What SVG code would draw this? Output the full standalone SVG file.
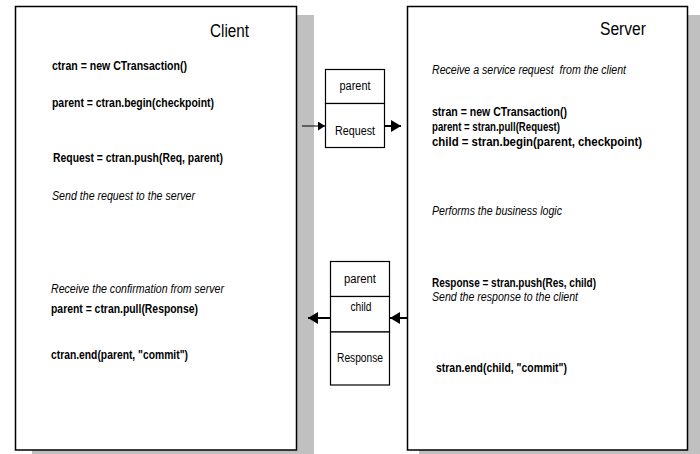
<svg xmlns="http://www.w3.org/2000/svg" width="700" height="454" viewBox="0 0 700 454">
<style>
.shadow{fill:#c0c0c0;stroke:none}
.panel{fill:#fff;stroke:#000;stroke-width:1.5}
.cell{fill:#fff;stroke:#000;stroke-width:1.2}
text{font-family:"Liberation Sans Narrow","Arial Narrow","Liberation Sans",Arial,sans-serif;fill:#000}
.title{font-size:18px}
.code{font-size:13px;font-weight:bold}
.note{font-size:12px;font-style:italic}
.lbl{font-size:12px;text-anchor:middle}
.thin{stroke:#000;stroke-width:1;fill:none}
.thick{stroke:#000;stroke-width:2;fill:none}
</style>
<defs>
<marker id="hs" markerUnits="userSpaceOnUse" markerWidth="8" markerHeight="9" refX="7" refY="4.5" orient="auto"><path d="M0,0 L7,4.5 L0,9 z" fill="#000"/></marker>
<marker id="hl" markerUnits="userSpaceOnUse" markerWidth="11" markerHeight="12" refX="10" refY="6" orient="auto"><path d="M0,0 L10,6 L0,12 z" fill="#000"/></marker>
</defs>
<rect width="700" height="454" fill="#fff"/>
<g id="client">
<rect class="shadow" x="32" y="15" width="282" height="450"/>
<rect class="panel" x="15.5" y="6.5" width="281" height="443.5"/>
<text class="title" x="210" y="37" textLength="39" lengthAdjust="spacingAndGlyphs">Client</text>
<text class="code" x="52" y="70" textLength="135" lengthAdjust="spacingAndGlyphs">ctran = new CTransaction()</text>
<text class="code" x="52" y="107" textLength="162" lengthAdjust="spacingAndGlyphs">parent = ctran.begin(checkpoint)</text>
<text class="code" x="53" y="162" textLength="170" lengthAdjust="spacingAndGlyphs">Request = ctran.push(Req, parent)</text>
<text class="note" x="52" y="200" textLength="143" lengthAdjust="spacingAndGlyphs">Send the request to the server</text>
<text class="note" x="51" y="293" textLength="173" lengthAdjust="spacingAndGlyphs">Receive the confirmation from server</text>
<text class="code" x="51" y="313" textLength="147" lengthAdjust="spacingAndGlyphs">parent = ctran.pull(Response)</text>
<text class="code" x="51" y="359" textLength="137" lengthAdjust="spacingAndGlyphs">ctran.end(parent, "commit")</text>
</g>
<g id="server">
<rect class="shadow" x="419" y="15" width="285" height="450"/>
<rect class="panel" x="407.5" y="6.5" width="280" height="443.5"/>
<text class="title" x="600" y="35" textLength="46" lengthAdjust="spacingAndGlyphs">Server</text>
<text class="note" x="432" y="74" xml:space="preserve" textLength="194" lengthAdjust="spacingAndGlyphs">Receive a service request  from the client</text>
<text class="code" x="432" y="116" textLength="135" lengthAdjust="spacingAndGlyphs">stran = new CTransaction()</text>
<text class="code" x="432" y="131" textLength="128" lengthAdjust="spacingAndGlyphs">parent = stran.pull(Request)</text>
<text class="code" x="432" y="146" textLength="210" lengthAdjust="spacingAndGlyphs">child = stran.begin(parent, checkpoint)</text>
<text class="note" x="432" y="215" textLength="130" lengthAdjust="spacingAndGlyphs">Performs the business logic</text>
<text class="code" x="432" y="287" textLength="164" lengthAdjust="spacingAndGlyphs">Response = stran.push(Res, child)</text>
<text class="note" x="432" y="301" textLength="146" lengthAdjust="spacingAndGlyphs">Send the response to the client</text>
<text class="code" x="436" y="372" textLength="131" lengthAdjust="spacingAndGlyphs">stran.end(child, "commit")</text>
</g>
<g id="request-msg">
<rect class="cell" x="325.5" y="69.5" width="59" height="34"/>
<rect class="cell" x="325.5" y="103.5" width="59" height="44"/>
<text class="lbl" x="355" y="90" textLength="31" lengthAdjust="spacingAndGlyphs">parent</text>
<text class="lbl" x="355" y="135" textLength="40" lengthAdjust="spacingAndGlyphs">Request</text>
</g>
<g id="response-msg">
<rect class="cell" x="330.5" y="261.5" width="59" height="35"/>
<rect class="cell" x="330.5" y="296.5" width="59" height="35.5"/>
<rect class="cell" x="330.5" y="332" width="59" height="53"/>
<text class="lbl" x="360" y="283" textLength="32" lengthAdjust="spacingAndGlyphs">parent</text>
<text class="lbl" x="361" y="311" textLength="21" lengthAdjust="spacingAndGlyphs">child</text>
<text class="lbl" x="360" y="362" textLength="46" lengthAdjust="spacingAndGlyphs">Response</text>
</g>
<g id="connectors">
<line class="thin" x1="302" y1="126" x2="325" y2="126" marker-end="url(#hs)"/>
<line class="thick" x1="385" y1="126" x2="401" y2="126" marker-end="url(#hl)"/>
<line class="thick" x1="408" y1="318" x2="390" y2="318" marker-end="url(#hl)"/>
<line class="thick" x1="330" y1="318" x2="308" y2="318" marker-end="url(#hl)"/>
</g>
</svg>
